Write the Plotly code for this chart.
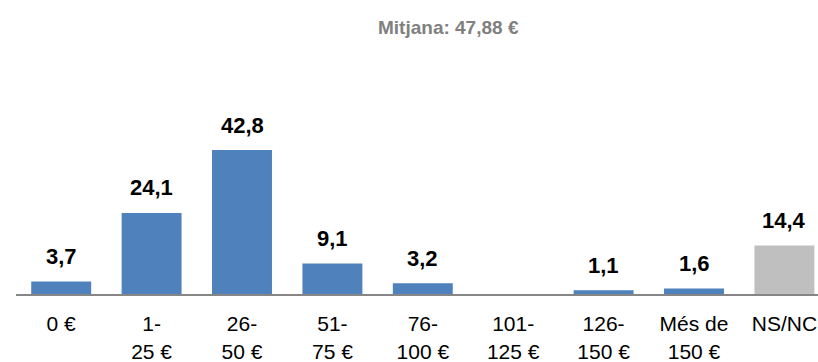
import plotly.graph_objects as go

# Spending brackets and share of respondents (%)
categories = ["0 €", "1-<br>25 €", "26-<br>50 €", "51-<br>75 €", "76-<br>100 €",
              "101-<br>125 €", "126-<br>150 €", "Més de<br>150 €", "NS/NC"]
values = [3.7, 24.1, 42.8, 9.1, 3.2, None, 1.1, 1.6, 14.4]
bar_colors = ["#4F81BD"] * 8 + ["#BFBFBF"]
title_text = "Mitjana: 47,88 €"

FONT = "Liberation Sans, Arial, sans-serif"

MT, MB = 60, 68
plot_h = 362 - MT - MB
px_per_unit = 3.364

fig = go.Figure(
    go.Bar(
        x=categories,
        y=values,
        marker=dict(color=bar_colors, line=dict(width=0)),
        hoverinfo="skip",
    )
)

# value labels above each bar, with decimal comma
for cat, v in zip(categories, values):
    if v is None:
        continue
    fig.add_annotation(
        x=cat, y=v, xref="x", yref="y",
        text="<b>" + f"{v:.1f}".replace(".", ",") + "</b>",
        showarrow=False, yanchor="middle", yshift=25,
        font=dict(family=FONT, size=22, color="#000000"),
    )

# centred heading above the chart
fig.add_annotation(
    x=441 / 818, xref="paper", xanchor="center",
    y=1 + (MT - 27) / plot_h, yref="paper", yanchor="middle",
    text="<b>" + title_text + "</b>",
    showarrow=False,
    font=dict(family=FONT, size=19, color="#808080"),
)

fig.update_layout(
    width=818, height=362,
    margin=dict(l=16, r=0, t=MT, b=MB, autoexpand=False),
    paper_bgcolor="white", plot_bgcolor="white",
    bargap=0.337,
    showlegend=False,
    font=dict(family=FONT),
    xaxis=dict(
        type="category",
        automargin=False,
        range=[-0.5, -0.5 + 802 / 90.4],
        showline=True, linecolor="#868686", linewidth=2,
        showgrid=False, zeroline=False,
        ticks="outside", ticklen=10, tickcolor="rgba(0,0,0,0)",
        tickfont=dict(family=FONT, size=21, color="#000000"),
        fixedrange=True,
    ),
    yaxis=dict(
        range=[0, plot_h / px_per_unit],
        visible=False, showgrid=False, zeroline=False,
        automargin=False,
        fixedrange=True,
    ),
)

fig.write_html("out.html", config={"displayModeBar": False})
